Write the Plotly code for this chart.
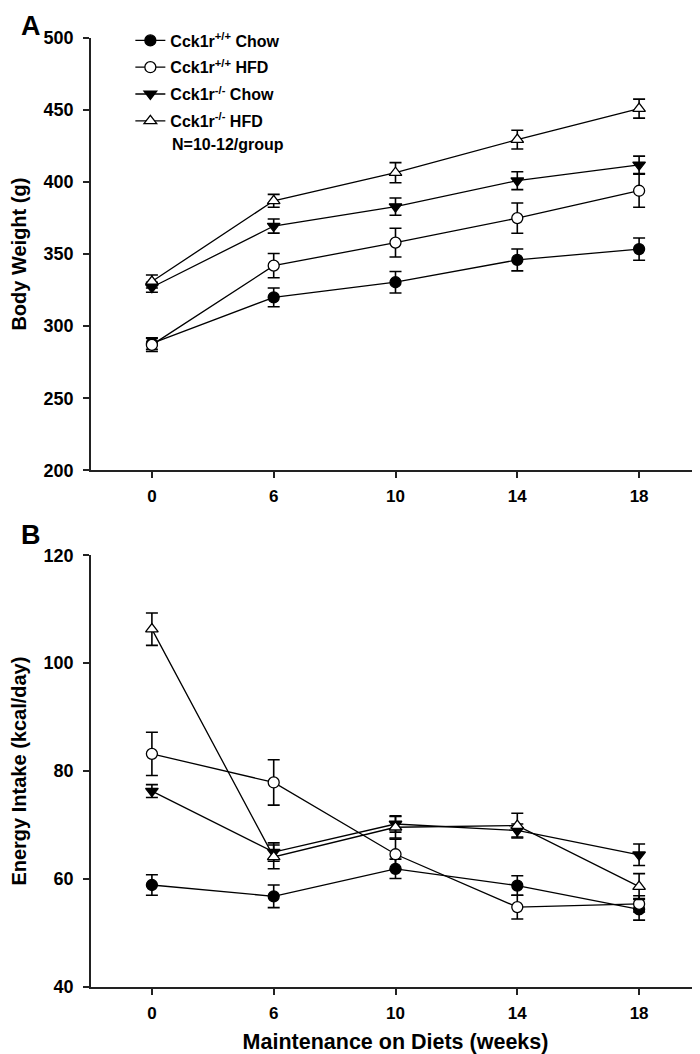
import plotly.graph_objects as go

weeks = ["0", "6", "10", "14", "18"]
series_names = ["<b>Cck1r<sup>+/+</sup> Chow</b>", "<b>Cck1r<sup>+/+</sup> HFD</b>",
                "<b>Cck1r<sup>-/-</sup> Chow</b>", "<b>Cck1r<sup>-/-</sup> HFD</b>"]

# Panel A: body weight (g), mean and SE
bw_wt_chow = [288, 320, 330.5, 346, 353.5]
bw_wt_hfd = [287, 342, 358, 375, 394]
bw_ko_chow = [327, 369.5, 383, 401, 412]
bw_ko_hfd = [331, 387, 406.5, 429.5, 451]
bw_wt_chow_se = [4, 6.5, 7.5, 7.6, 7.7]
bw_wt_hfd_se = [4.5, 8.4, 10, 10.5, 11.5]
bw_ko_chow_se = [3.5, 4.9, 6, 6.2, 6]
bw_ko_hfd_se = [4.5, 4.5, 7, 6.5, 6.6]

# Panel B: energy intake (kcal/day), mean and SE
ei_wt_chow = [58.9, 56.8, 61.9, 58.8, 54.4]
ei_wt_hfd = [83.2, 77.9, 64.6, 54.8, 55.4]
ei_ko_chow = [76.3, 65.0, 70.2, 69.0, 64.5]
ei_ko_hfd = [106.3, 64.1, 69.6, 69.9, 58.6]
ei_wt_chow_se = [1.9, 2.1, 1.8, 1.8, 2.0]
ei_wt_hfd_se = [4.0, 4.2, 2.8, 2.2, 1.5]
ei_ko_chow_se = [1.2, 1.7, 1.5, 1.2, 2.0]
ei_ko_hfd_se = [3.0, 2.2, 2.0, 2.3, 2.4]

styles = [
    dict(symbol="circle", color="black"),
    dict(symbol="circle", color="white"),
    dict(symbol="triangle-down", color="black"),
    dict(symbol="triangle-up", color="white"),
]

fig = go.Figure()
panel_a = [(bw_wt_chow, bw_wt_chow_se), (bw_wt_hfd, bw_wt_hfd_se),
           (bw_ko_chow, bw_ko_chow_se), (bw_ko_hfd, bw_ko_hfd_se)]
panel_b = [(ei_wt_chow, ei_wt_chow_se), (ei_wt_hfd, ei_wt_hfd_se),
           (ei_ko_chow, ei_ko_chow_se), (ei_ko_hfd, ei_ko_hfd_se)]

for i, (vals, se) in enumerate(panel_a):
    fig.add_trace(go.Scatter(
        x=weeks, y=vals, mode="lines+markers", name=series_names[i],
        legendgroup=str(i), showlegend=True,
        line=dict(color="black", width=1.3),
        marker=dict(symbol=styles[i]["symbol"], size=11, color=styles[i]["color"],
                    line=dict(color="black", width=1.3)),
        error_y=dict(type="data", array=se, color="black", thickness=1.6, width=6),
        xaxis="x", yaxis="y"))
for i, (vals, se) in enumerate(panel_b):
    fig.add_trace(go.Scatter(
        x=weeks, y=vals, mode="lines+markers", name=series_names[i],
        showlegend=False,
        line=dict(color="black", width=1.3),
        marker=dict(symbol=styles[i]["symbol"], size=11, color=styles[i]["color"],
                    line=dict(color="black", width=1.3)),
        error_y=dict(type="data", array=se, color="black", thickness=1.6, width=6),
        xaxis="x2", yaxis="y2"))

# The page places the figure 8 px from the top-left corner (body margin),
# so page coordinates are converted to figure coordinates by subtracting 8.
OFF = 8
W, H = 700, 1054
L, R = 81 - OFF, OFF
T = 37.5 - OFF
Bm = H - (987 - OFF)
ph = H - T - Bm
pw = W - L - R
def py(page_y):
    return (H - Bm - (page_y - OFF)) / ph
def px(page_x):
    return (page_x - OFF - L) / pw

family = "Liberation Sans, Arial, sans-serif"
ax_common = dict(showline=True, linecolor="#222", linewidth=1.5, ticks="outside",
                 ticklen=6, tickwidth=1.5, tickcolor="#222", showgrid=False,
                 zeroline=False)
ytickfont = dict(family=family, size=18, color="black", weight="bold")
xtickfont = dict(family=family, size=17, color="black", weight="bold")

fig.update_layout(
    width=W, height=H,
    margin=dict(l=L, r=R, t=T, b=Bm),
    plot_bgcolor="white", paper_bgcolor="white",
    font=dict(family=family, color="black"),
    xaxis=dict(type="category", range=[-0.5, 4.5], anchor="y", domain=[0, 1],
               tickfont=xtickfont, ticklabelstandoff=4, **ax_common),
    yaxis=dict(range=[200, 500], dtick=50, domain=[py(470), 1], anchor="x",
               tickfont=ytickfont, ticklabelstandoff=6,
               title=dict(text="<b>Body Weight (g)</b>", font=dict(size=20), standoff=14),
               **ax_common),
    xaxis2=dict(type="category", range=[-0.5, 4.5], anchor="y2", domain=[0, 1],
                tickfont=xtickfont, ticklabelstandoff=4,
                title=dict(text="<b>Maintenance on Diets (weeks)</b>",
                           font=dict(size=21.5), standoff=12),
                **ax_common),
    yaxis2=dict(range=[40, 120], dtick=20, domain=[0, py(555)], anchor="x2",
                tickfont=ytickfont, ticklabelstandoff=6,
                title=dict(text="<b>Energy Intake (kcal/day)</b>", font=dict(size=20), standoff=14),
                **ax_common),
    showlegend=True,
    legend=dict(x=px(121), y=py(23), xanchor="left", yanchor="top",
                font=dict(size=16, family=family, color="black"),
                bgcolor="rgba(0,0,0,0)", tracegroupgap=3, itemwidth=30),
)

fig.add_annotation(text="<b>N=10-12/group</b>", xref="paper", yref="paper",
                   x=px(161), y=py(144), xanchor="left", yanchor="middle",
                   showarrow=False, font=dict(size=16, color="black"))
fig.add_annotation(text="<b>A</b>", xref="paper", yref="paper",
                   x=px(8), y=py(8), xanchor="left", yanchor="top",
                   showarrow=False, font=dict(size=27, color="black"))
fig.add_annotation(text="<b>B</b>", xref="paper", yref="paper",
                   x=px(8), y=py(535), xanchor="left", yanchor="middle",
                   showarrow=False, font=dict(size=27, color="black"))

fig.write_html("out.html")
